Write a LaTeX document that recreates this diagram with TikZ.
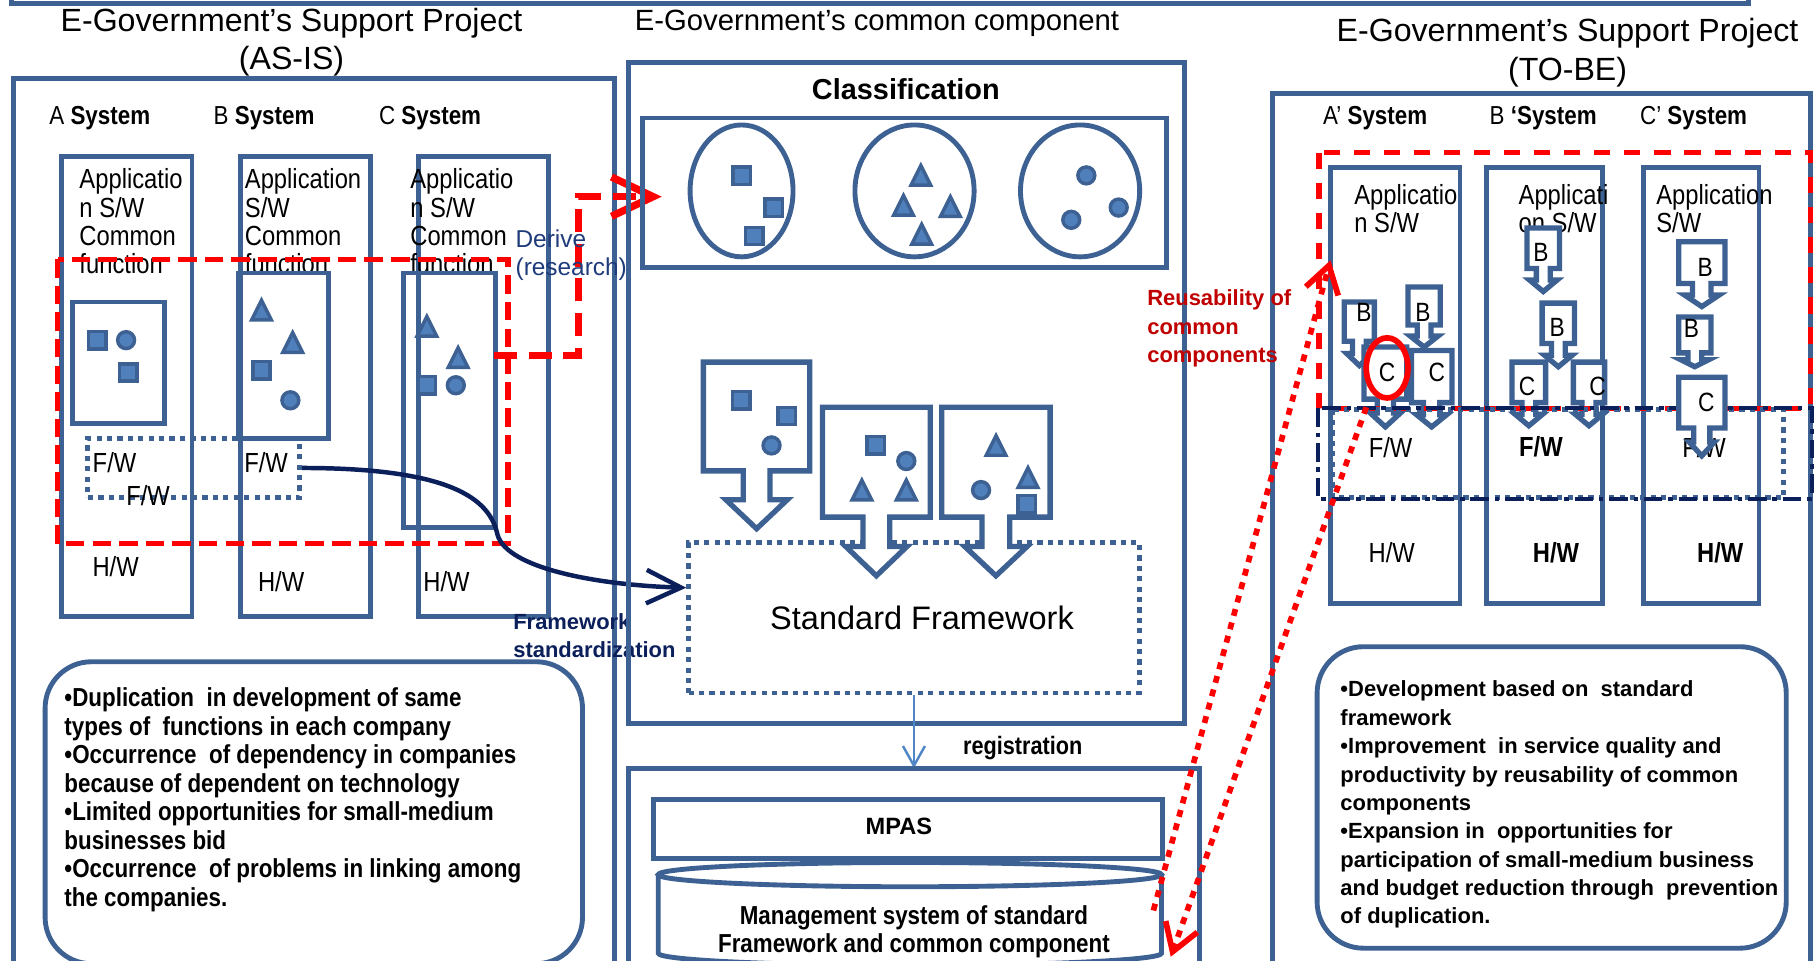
\documentclass[tikz,border=0pt]{standalone}
\usepackage{fontspec}
\setmainfont{Liberation Sans}
\newfontfamily\condfont{Liberation Sans}[FakeStretch=0.86]
\usepackage{xcolor}
\usetikzlibrary{positioning,calc,arrows.meta}

\definecolor{boxblue}{HTML}{3D6193}
\definecolor{fillblue}{HTML}{4F80BC}
\definecolor{lnavy}{HTML}{0B1F5B}
\definecolor{textnavy}{HTML}{1F3B7A}
\definecolor{darkred}{HTML}{C00000}
\definecolor{regblue}{HTML}{4F86C6}

% small symbols of the components
\newcommand{\shpsq}[1]{\draw[shape_fill] (#1) ++(-7.5,-7.5) rectangle ++(15,15);}
\newcommand{\shptri}[1]{\draw[shape_fill] (#1) ++(0,-8.5) -- ++(8.5,17) -- ++(-17,0) -- cycle;}
\newcommand{\shpdot}[1]{\draw[shape_fill] (#1) circle [radius=0.73mm];}
% box with a down arrow: left, top, right, bottom, tip, stem half, head half
\newcommand{\drawpiece}[7]{%
  \pgfmathsetmacro{\pcx}{(#1+#3)/2}%
  \pgfmathsetmacro{\phb}{(#4+#5)/2}%
  \draw[piece] (#1,#2) -- (#3,#2) -- (#3,#4) -- (\pcx+#6,#4) -- (\pcx+#6,\phb)
    -- (\pcx+#7,\phb) -- (\pcx,#5) -- (\pcx-#7,\phb) -- (\pcx-#6,\phb)
    -- (\pcx-#6,#4) -- (#1,#4) -- cycle;}

\begin{document}
\begin{tikzpicture}[
	x=0.1mm, y=-0.1mm,
	font=\fontsize{6}{7}\selectfont,
	% khung
	blue_box/.style={draw=boxblue, line width=1.2pt},
	dot_box/.style={draw=boxblue, line width=1.2pt, dash pattern=on 0.45mm off 0.45mm},
	shape_fill/.style={draw=boxblue, fill=fillblue, line width=0.85pt},
	piece/.style={draw=boxblue, fill=white, line width=1.3pt},
	% duong do / xanh
	red_box/.style={draw=red, line width=1.3pt, dash pattern=on 1.6mm off 0.7mm},
	red_route/.style={draw=red, line width=1.8pt, dash pattern=on 2mm off 1mm,
		-{Straight Barb[length=3.6mm,width=3.4mm]}},
	red_dots/.style={draw=red, line width=1.4pt, dash pattern=on 0.6mm off 0.6mm,
		-{Straight Barb[length=2.3mm,width=2.9mm]}},
	navy_curve/.style={draw=lnavy, line width=1.1pt, -{Straight Barb[length=3mm,width=2.9mm]}},
	navy_dashdot/.style={draw=lnavy, line width=1pt, dash pattern=on 1.6mm off 0.5mm on 0.4mm off 0.5mm},
	reg_arrow/.style={draw=regblue, line width=0.6pt, -{Straight Barb[length=1.7mm,width=1.9mm]}},
	% chu
	title_text/.style={font=\fontsize{7.9}{9.4}\selectfont, align=center},
	col_text/.style={font=\condfont\fontsize{6.8}{7}\selectfont, align=left, anchor=north west, inner sep=0pt},
	sys_text/.style={font=\condfont\fontsize{6.4}{7}\selectfont, anchor=west, inner sep=0pt},
	layer_text/.style={font=\condfont\fontsize{6.8}{7}\selectfont, inner sep=0pt},
	piece_text/.style={font=\condfont\fontsize{6.5}{7}\selectfont, inner sep=0pt},
	bullet_text/.style={align=left, anchor=north west, inner sep=0pt}
	]
	\useasboundingbox (0,0) rectangle (1568,830);
	
	% --- VIEN TREN ---
	\draw[blue_box] (10,-20) rectangle (1511,3);
	
	% --- TIEU DE ---
	\node[title_text] (lefttitle) at (252,36.5) {E-Government’s Support Project\\(AS-IS)};
	\node[anchor=west, inner sep=0pt, font=\fontsize{7.2}{8}\selectfont] (midtitle) at (548,20) {E-Government’s common component};
	\node[title_text] (righttitle) at (1355,45.5) {E-Government’s Support Project\\(TO-BE)};
	
	% --- AS-IS ---
	\draw[blue_box] (12,68) rectangle (531,850);
	\node[sys_text] (asys) at (42,102) {A \textbf{System}};
	\node[sys_text] (bsys) at (184,102) {B \textbf{System}};
	\node[sys_text] (csys) at (327,102) {C \textbf{System}};
	
	\draw[blue_box] (53,135) rectangle (166,533);
	\draw[blue_box] (208,135) rectangle (320,533);
	\draw[blue_box] (362,135) rectangle (474,533);
	\node[col_text] (atext) at (68,145) {Applicatio\\n S/W\\Common\\function};
	\node[col_text] (btext) at (211,145) {Application\\S/W\\Common\\function};
	\node[col_text] (ctext) at (354,145) {Applicatio\\n S/W\\Common\\function};
	
	% common function boxes
	\draw[blue_box] (63,261) rectangle (142,366);
	\draw[blue_box] (206,236) rectangle (284,379);
	\draw[blue_box] (349,236) rectangle (428,456);
	\shpsq{84,294} \shpdot{109,294} \shpsq{111,322}
	\shptri{226,268} \shptri{253,296} \shpsq{226,320} \shpdot{251,346}
	\shptri{369,282} \shptri{396,309} \shpsq{369,333} \shpdot{394,333}
	
	% F/W and H/W
	\node[dot_box, minimum width=18.3mm, minimum height=5.1mm] (fwbox) at (167.5,404.5) {};
	\node[layer_text] (afw) at (99,400) {F/W};
	\node[layer_text] (afw2) at (128,428) {F/W};
	\node[layer_text] (bfw) at (230,400) {F/W};
	\node[layer_text] (ahw) at (100,490) {H/W};
	\node[layer_text] (bhw) at (243,503) {H/W};
	\node[layer_text] (chw) at (386,503) {H/W};
	
	% derive
	\draw[red_box] (50,224) rectangle (439,470);
	\coordinate (derive_start) at (427,307.5);
	\coordinate (cls_in) at (572,170);
	\draw[red_route] (derive_start) -- (500,307.5) -- (500,170) -- (cls_in);
	\node[bullet_text, text=textnavy, font=\fontsize{6}{6.8}\selectfont] (derive) at (445,198) {Derive\\(research)};
	
	% --- KHUNG CHUAN ---
	\node[dot_box, minimum width=38.95mm, minimum height=13mm] (sf) at (790,534) {};
	\node[font=\fontsize{8}{9}\selectfont] (sftext) at (797,534) {Standard Framework};
	\draw[navy_curve] (fwbox.east) .. controls (400,404.5) and (424,436) .. (430,462)
		.. controls (438,492) and (520,506) .. ([yshift=2.6mm]sf.west);
	\node[bullet_text, text=lnavy, font=\bfseries\fontsize{5.4}{6.8}\selectfont] (fwstd) at (443,530) {Framework\\standardization};
	
	% bullets AS-IS
	\draw[blue_box, rounded corners=4mm] (39,572) rectangle (503.5,833);
	\node[bullet_text, font=\condfont\bfseries\fontsize{6.4}{7}\selectfont] (asis_list) at (55,594)
		{•Duplication\ \ in development of same\\types of\ \ functions in each company\\•Occurrence\ \ of dependency in companies\\because of dependent on technology\\•Limited opportunities for small-medium\\businesses bid\\•Occurrence\ \ of problems in linking among\\the companies.};
	
	% --- COMMON COMPONENT ---
	\draw[blue_box] (543,54) rectangle (1024,625);
	\node[font=\bfseries\fontsize{7.1}{8}\selectfont] (classif) at (783,77) {Classification};
	\draw[blue_box] (555,102) rectangle (1008.6,231);
	\draw[blue_box] (641,165) ellipse [x radius=4.45mm, y radius=5.7mm];
	\draw[blue_box] (790.5,165) ellipse [x radius=5.15mm, y radius=5.7mm];
	\draw[blue_box] (933.6,165) ellipse [x radius=5.15mm, y radius=5.7mm];
	\shpsq{641,151.8} \shpsq{668.8,179.5} \shpsq{652,204}
	\shptri{796,151.6} \shptri{781,177.5} \shptri{821.5,178.6} \shptri{796.7,202.5}
	\shpdot{939,151.6} \shpdot{926,190} \shpdot{967,179.4}
	
	% components into the framework
	\drawpiece{608}{313}{700}{407}{457}{11.5}{26.5}
	\drawpiece{711}{352}{804}{447}{497.7}{11.5}{26.5}
	\drawpiece{814}{352}{907.7}{447}{497.7}{12}{27}
	\shpsq{640.6,346} \shpsq{679.9,359.6} \shpdot{666.9,385}
	\shpsq{757,385} \shpdot{783.4,398.5} \shptri{745,423.6} \shptri{783.4,423.6}
	\shptri{861,385} \shptri{888.6,412.8} \shpdot{848,423.6} \shpsq{887.5,436}
	
	% registration
	\coordinate (reg_top) at (790,664);
	\draw[reg_arrow] (sf.south) -- (reg_top);
	\node[font=\condfont\bfseries\fontsize{6.2}{7}\selectfont] (reg) at (884,647) {registration};
	\draw[blue_box] (543,664) rectangle (1037,850);
	\node[blue_box, minimum width=43.95mm, minimum height=5.15mm] (mpas) at (785,716.6) {};
	\node[font=\bfseries\fontsize{5.8}{7}\selectfont] (mpastext) at (777,714) {MPAS};
	% database
	\draw[blue_box] (569,756) -- (569,824) arc[start angle=180, end angle=360, x radius=21.75mm, y radius=1.05mm] -- (1004,756);
	\draw[blue_box] (786.5,756) ellipse [x radius=21.75mm, y radius=1.05mm];
	\node[align=center, anchor=north, inner sep=0pt, font=\condfont\bfseries\fontsize{6.4}{6.8}\selectfont] (mgmt) at (790,782)
		{Management system of standard\\Framework and common component};
	
	% --- TO-BE ---
	\draw[blue_box] (1100,81) rectangle (1565,850);
	\node[sys_text] (a2sys) at (1143,102) {A’ \textbf{System}};
	\node[sys_text] (b2sys) at (1287,102) {B \textbf{‘System}};
	\node[sys_text] (c2sys) at (1417,102) {C’ \textbf{System}};
	
	\draw[blue_box] (1150,145) rectangle (1262,522);
	\draw[blue_box] (1285,145) rectangle (1385.5,522);
	\draw[blue_box] (1420.5,145) rectangle (1520.5,522);
	\node[col_text] (a2text) at (1170,158.5) {Applicatio\\n S/W};
	\node[col_text] (b2text) at (1312,158.5) {Applicati\\on S/W};
	\node[col_text] (c2text) at (1431,158.5) {Application\\S/W};
	
	% reused components
	\drawpiece{1162}{261}{1188}{295}{316}{6}{11}
	\drawpiece{1217}{248}{1245}{281}{300}{6}{12}
	\drawpiece{1179}{300}{1216}{345}{369}{7}{13}
	\drawpiece{1220}{303}{1255}{348}{369}{7}{13}
	\drawpiece{1320}{197}{1348}{232}{252}{6}{12}
	\drawpiece{1333}{262}{1361}{297}{317}{6}{12}
	\drawpiece{1307}{313}{1336}{348}{368}{6}{12}
	\drawpiece{1360}{313}{1387}{348}{368}{6}{12}
	\drawpiece{1451}{209}{1491}{245}{265}{8}{15}
	\drawpiece{1451}{274}{1479}{305}{317}{6}{12}
	\node[piece_text] (pb1) at (1179,270) {B};
	\node[piece_text] (pb2) at (1230,270) {B};
	\node[piece_text] (pc1) at (1199,322) {C};
	\node[piece_text] (pc2) at (1242,322) {C};
	\node[piece_text] (pb3) at (1332,218) {B};
	\node[piece_text] (pb4) at (1346,283) {B};
	\node[piece_text] (pc3) at (1320,334) {C};
	\node[piece_text] (pc4) at (1381,334) {C};
	\node[piece_text] (pb5) at (1474,231) {B};
	\node[piece_text] (pb6) at (1462,284) {B};
	
	% layers
	\draw[red_box, dash pattern=on 1.4mm off 1.2mm] (1140,132) rectangle (1565,353);
	\draw[dot_box] (1152,354) rectangle (1542,430);
	\draw[navy_dashdot] (1139,353) rectangle (1566,431);
	\node[layer_text] (a2fw) at (1202,386.5) {F/W};
	\node[layer_text, font=\condfont\bfseries\fontsize{6.8}{7}\selectfont] (b2fw) at (1332,386.5) {F/W};
	\node[layer_text] (c2fw) at (1473,386.5) {F/W};
	\node[layer_text] (a2hw) at (1203,477.5) {H/W};
	\node[layer_text, font=\condfont\bfseries\fontsize{6.8}{7}\selectfont] (b2hw) at (1345,477.5) {H/W};
	\node[layer_text, font=\condfont\bfseries\fontsize{6.8}{7}\selectfont] (c2hw) at (1487,477.5) {H/W};
	\drawpiece{1451}{326}{1491}{370}{394}{7}{11}
	\node[piece_text] (pc5) at (1475,348) {C};
	
	% reuse
	\draw[red, line width=1.4pt] (1199,318) ellipse [x radius=1.8mm, y radius=2.6mm];
	\coordinate (db_out) at (997,787);
	\coordinate (reuse_in) at (1150,225);
	\coordinate (reuse_out) at (1181,352);
	\coordinate (db_in) at (1012,827);
	\draw[red_dots] (db_out) -- (reuse_in);
	\draw[red_dots] (reuse_out) -- (db_in);
	\node[bullet_text, text=darkred, font=\bfseries\fontsize{5.4}{7}\selectfont] (reuse) at (991,250) {Reusability of\\common\\components};
	
	% bullets TO-BE
	\draw[blue_box, rounded corners=4mm] (1138.5,559) rectangle (1544,819.6);
	\node[bullet_text, font=\bfseries\fontsize{5.4}{6.97}\selectfont] (tobe_list) at (1158,588)
		{•Development based on\ \ standard\\framework\\•Improvement\ \ in service quality and\\productivity by reusability of common\\components\\•Expansion in\ \ opportunities for\\participation of small-medium business\\and budget reduction through\ \ prevention\\of duplication.};
\end{tikzpicture}
\end{document}
